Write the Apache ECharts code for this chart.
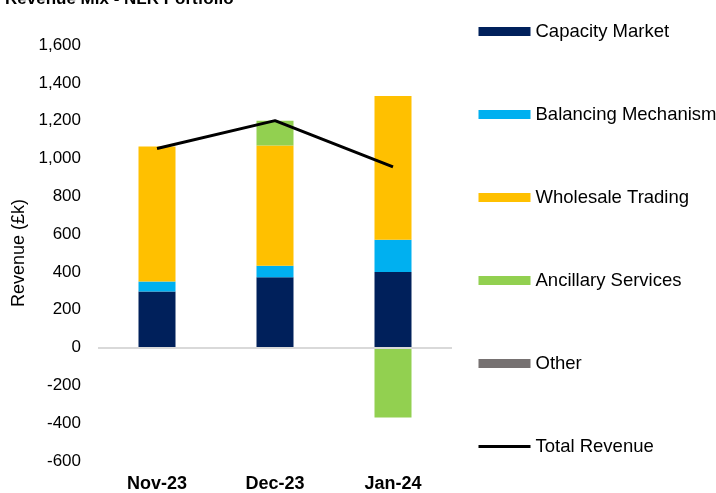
<!DOCTYPE html>
<html>
<head>
<meta charset="utf-8">
<script src="https://cdn.jsdelivr.net/npm/echarts@6/dist/echarts.min.js"></script>
<style>
html, body { margin: 0; padding: 0; background: #fff; }
#chart { width: 716px; height: 493px; }
</style>
</head>
<body>
<div id="chart"></div>
<script>
let months = ['Nov-23', 'Dec-23', 'Jan-24']
let capacityMarket = [296, 372, 400]
let balancingMechanism = [53, 61, 170]
let wholesaleTrading = [714, 635, 760]
let ancillaryServices = [-5, 132, -370]
let other = [0, 0, 0]
let totalRevenue = [1053, 1200, 955]

let chart = echarts.init(document.getElementById('chart'));

let barSeries = (name, color, data) => {
	return {
		name: name,
		type: 'bar',
		stack: 'mix',
		barWidth: 37,
		itemStyle: { color: color },
		data: data
	}
}

let option = {
	backgroundColor: '#fff',
	animation: false,
	textStyle: { fontFamily: 'Liberation Sans, Arial, sans-serif' },
	title: {
		text: 'Revenue Mix - NLR Portfolio',
		left: 0,
		top: -14,
		textStyle: { fontSize: 17, fontWeight: 'bold', color: '#000' }
	},
	legend: {
		orient: 'vertical',
		left: 477,
		top: 22,
		padding: 0,
		itemWidth: 52,
		itemHeight: 9,
		itemGap: 64,
		textStyle: { fontSize: 18.5, color: '#000' },
		data: [
			{ name: 'Capacity Market', icon: 'rect' },
			{ name: 'Balancing Mechanism', icon: 'rect' },
			{ name: 'Wholesale Trading', icon: 'rect' },
			{ name: 'Ancillary Services', icon: 'rect' },
			{ name: 'Other', icon: 'rect' },
			{ name: 'Total Revenue', itemStyle: { opacity: 0 }, lineStyle: { width: 3, color: '#000' } }
		]
	},
	grid: {
		left: 98,
		right: 264,
		top: 45,
		bottom: 30
	},
	xAxis: {
		type: 'category',
		data: months,
		axisLine: { show: false, onZero: false },
		axisTick: { show: false },
		axisLabel: {
			fontSize: 18,
			fontWeight: 'bold',
			color: '#000',
			margin: 14
		}
	},
	yAxis: {
		type: 'value',
		min: -600,
		max: 1600,
		interval: 200,
		name: 'Revenue (£k)',
		nameLocation: 'middle',
		nameGap: 70,
		nameTextStyle: { fontSize: 18, color: '#000' },
		axisLine: { show: false },
		axisTick: { show: false },
		splitLine: { show: false },
		axisLabel: {
			fontSize: 17,
			color: '#000',
			margin: 17,
			formatter: v => v.toLocaleString('en-GB')
		}
	},
	series: [
		Object.assign(barSeries('Capacity Market', '#00205b', capacityMarket), {
			markLine: {
				silent: true,
				symbol: 'none',
				label: { show: false },
				lineStyle: { color: '#d9d9d9', width: 2, type: 'solid' },
				data: [{ yAxis: 0 }]
			}
		}),
		barSeries('Balancing Mechanism', '#00b0f0', balancingMechanism),
		barSeries('Wholesale Trading', '#ffc000', wholesaleTrading),
		barSeries('Ancillary Services', '#92d050', ancillaryServices),
		barSeries('Other', '#767171', other),
		{
			name: 'Total Revenue',
			type: 'line',
			symbol: 'none',
			lineStyle: { color: '#000', width: 3 },
			itemStyle: { color: '#000' },
			z: 5,
			data: totalRevenue
		}
	]
};
chart.setOption(option)
</script>
</body>
</html>
